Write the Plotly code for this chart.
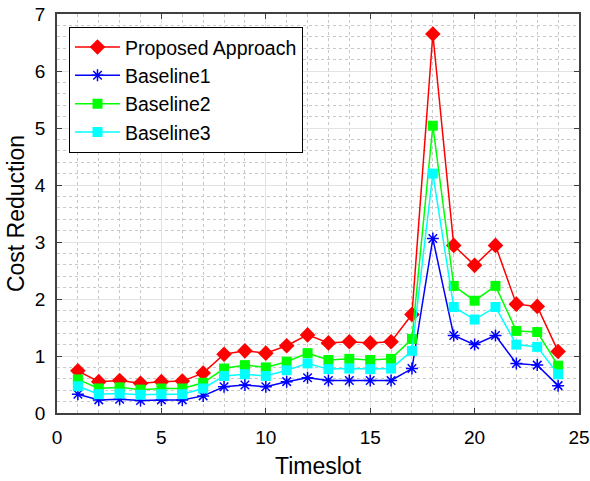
import plotly.graph_objects as go

timeslots = list(range(1, 25))
proposed = [0.74, 0.55, 0.57, 0.52, 0.55, 0.56, 0.70, 1.03, 1.09, 1.05, 1.18, 1.37,
            1.23, 1.25, 1.23, 1.25, 1.73, 6.65, 2.94, 2.59, 2.94, 1.91, 1.87, 1.08]
baseline1 = [0.33, 0.23, 0.24, 0.22, 0.23, 0.23, 0.30, 0.46, 0.49, 0.46, 0.55, 0.62,
             0.57, 0.57, 0.57, 0.57, 0.78, 3.06, 1.36, 1.20, 1.36, 0.87, 0.84, 0.48]
baseline2 = [0.59, 0.43, 0.45, 0.41, 0.43, 0.43, 0.53, 0.78, 0.84, 0.80, 0.90, 1.05,
             0.93, 0.95, 0.93, 0.95, 1.30, 5.04, 2.23, 1.97, 2.23, 1.44, 1.42, 0.83]
baseline3 = [0.47, 0.33, 0.34, 0.32, 0.33, 0.33, 0.43, 0.65, 0.68, 0.65, 0.75, 0.87,
             0.77, 0.78, 0.77, 0.78, 1.09, 4.20, 1.86, 1.64, 1.86, 1.20, 1.16, 0.68]

font = "Liberation Sans, Arial, Helvetica, sans-serif"

fig = go.Figure()
fig.add_trace(go.Scatter(x=timeslots, y=proposed, name="Proposed Approach", mode="lines+markers",
                         line=dict(color="red", width=1.5),
                         marker=dict(symbol="diamond", size=12, color="red")))
fig.add_trace(go.Scatter(x=timeslots, y=baseline1, name="Baseline1", mode="lines+markers",
                         line=dict(color="blue", width=1.5),
                         marker=dict(symbol="asterisk-open", size=10, color="blue",
                                     line=dict(color="blue", width=1.5))))
fig.add_trace(go.Scatter(x=timeslots, y=baseline2, name="Baseline2", mode="lines+markers",
                         line=dict(color="#00ff00", width=1.5),
                         marker=dict(symbol="square", size=10, color="#00ff00")))
fig.add_trace(go.Scatter(x=timeslots, y=baseline3, name="Baseline3", mode="lines+markers",
                         line=dict(color="cyan", width=1.5),
                         marker=dict(symbol="square", size=10, color="cyan")))

axis_common = dict(
    showline=True, linecolor="#404040", linewidth=1.5, mirror="allticks",
    ticks="inside", ticklen=5, tickcolor="#404040",
    showgrid=True, gridcolor="#e3e3e3", gridwidth=1,
    zeroline=False, automargin=False,
    tickfont=dict(family=font, size=19, color="black"),
)

fig.update_xaxes(range=[0, 25], dtick=5, tick0=0, ticklabelstandoff=6,
                 title=dict(text="Timeslot", font=dict(family=font, size=23, color="black"), standoff=11),
                 minor=dict(dtick=1, tick0=0, showgrid=True, gridcolor="#c8c8c8", griddash="dot", gridwidth=1, ticks=""),
                 **axis_common)
fig.update_yaxes(range=[0, 7], dtick=1, tick0=0, ticklabelstandoff=6,
                 title=dict(text="Cost Reduction", font=dict(family=font, size=23, color="black"), standoff=4),
                 minor=dict(dtick=0.2, tick0=0, showgrid=True, gridcolor="#c8c8c8", griddash="dot", gridwidth=1, ticks=""),
                 **axis_common)

fig.update_layout(
    width=590, height=481,
    margin=dict(l=57, r=11, t=14, b=68),
    paper_bgcolor="white", plot_bgcolor="white",
    font=dict(family=font, size=20, color="black"),
    legend=dict(x=0.023, y=0.968, xanchor="left", yanchor="top",
                bgcolor="white", bordercolor="black", borderwidth=1,
                font=dict(family=font, size=19.5, color="black"),
                tracegroupgap=0, itemwidth=45),
    showlegend=True,
)

fig.write_html("out.html")
